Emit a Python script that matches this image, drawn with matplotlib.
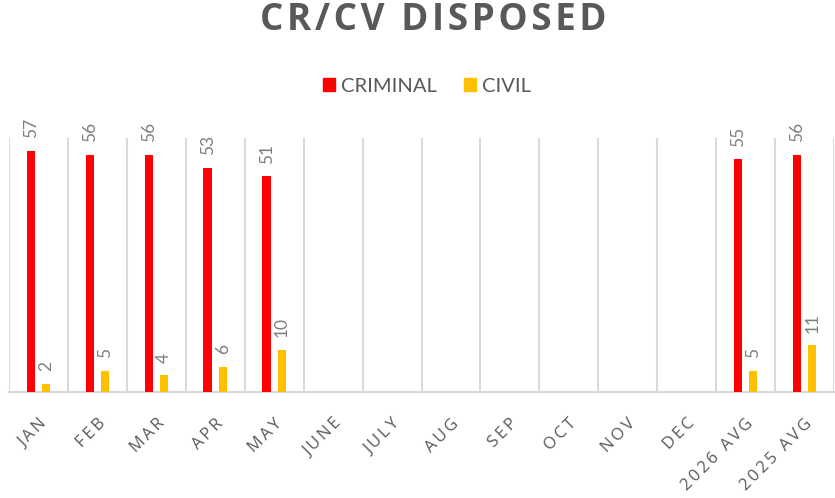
import numpy as np
import matplotlib
matplotlib.use("Agg")
from matplotlib import pyplot as plt

months = ['JAN', 'FEB', 'MAR', 'APR', 'MAY', 'JUNE', 'JULY', 'AUG', 'SEP',
          'OCT', 'NOV', 'DEC', '2026 AVG', '2025 AVG']
criminal = [57, 56, 56, 53, 51, None, None, None, None, None, None, None, 55, 56]
civil = [2, 5, 4, 6, 10, None, None, None, None, None, None, None, 5, 11]

red = '#FF0000'
gold = '#FFC000'
grid_col = '#D9D9D9'
label_col = '#7F7F7F'
text_col = '#595959'


def spaced(s, sp='\u2009'):
    # fake letter spacing
    return sp.join(s)


fig = plt.figure(figsize=(8.35, 4.98), dpi=100)
ax = fig.add_axes([9 / 835, 1 - 392 / 498, 825 / 835, 254 / 498])

x = np.arange(len(months))
w = 0.14
off = 0.13

for vals, dx, col in [(criminal, -off, red), (civil, off, gold)]:
    xs = [xi + dx for xi, v in zip(x, vals) if v is not None]
    ys = [v for v in vals if v is not None]
    bars = ax.bar(xs, ys, width=w, color=col, zorder=3)
    for b, v in zip(bars, ys):
        ax.annotate(str(v), (b.get_x() + b.get_width() / 2, v),
                    xytext=(0, 9), textcoords='offset points',
                    rotation=90, ha='center', va='bottom',
                    fontsize=12.5, color=label_col, family='Lato')

ax.set_xlim(-0.5, len(months) - 0.5)
ax.set_ylim(0, 60)

# vertical separators between categories
for b in np.arange(-0.5, len(months) + 0.5, 1):
    ax.axvline(b, color=grid_col, lw=1.5, zorder=1)

for s in ['top', 'right', 'left']:
    ax.spines[s].set_visible(False)
ax.spines['bottom'].set_color(grid_col)
ax.spines['bottom'].set_linewidth(1.5)
ax.set_yticks([])
ax.set_xticks(x)
ax.set_xticklabels([spaced(m) for m in months], rotation=45, ha='right',
                   va='top', rotation_mode='anchor', fontsize=12,
                   color=text_col, family=['Open Sans', 'DejaVu Sans'])
ax.tick_params(axis='x', length=0, pad=17)

fig.text(433 / 835, 1 - 20 / 498, spaced('CR/CV DISPOSED', '\u200a'),
         ha='center', va='center', fontsize=26.5, fontweight='bold',
         color=text_col, family=['Open Sans', 'DejaVu Sans'])

handles = [plt.Rectangle((0, 0), 1, 1, color=red),
           plt.Rectangle((0, 0), 1, 1, color=gold)]
fig.legend(handles, ['CRIMINAL', 'CIVIL'], loc='center',
           bbox_to_anchor=(427 / 835, 1 - 86 / 498), ncol=2, frameon=False,
           handlelength=0.6, handleheight=0.6, handletextpad=0.3,
           columnspacing=1.3, prop={'family': 'Lato', 'size': 14.5},
           labelcolor=text_col)

fig.savefig('out.png', dpi=100)
